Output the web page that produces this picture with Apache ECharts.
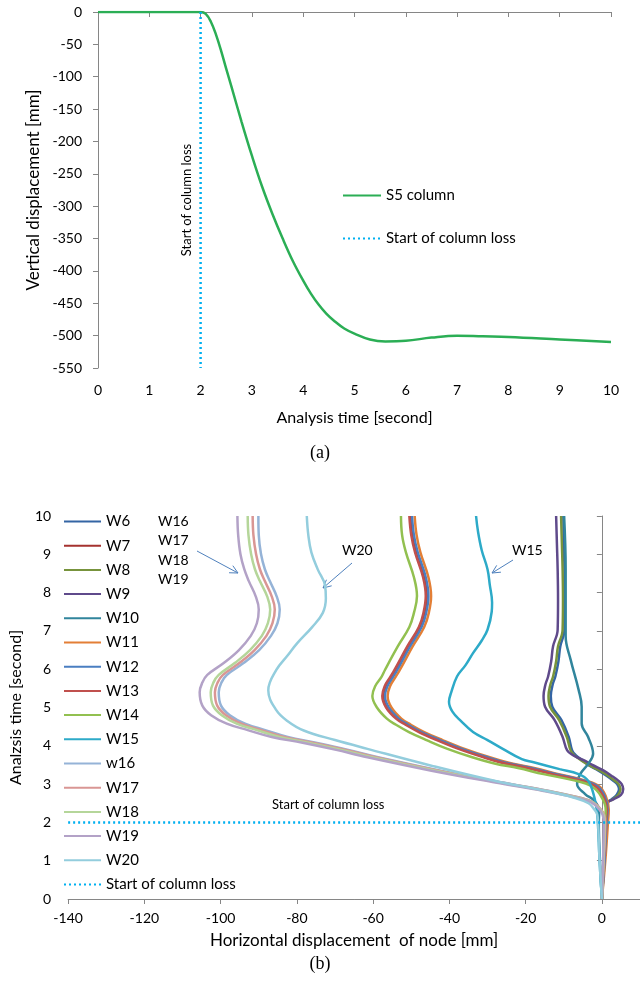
<!DOCTYPE html>
<html><head><meta charset="utf-8">
<script src="https://cdn.jsdelivr.net/npm/echarts@6/dist/echarts.min.js"></script>
<style>html,body{margin:0;padding:0;background:#fff}#c{width:640px;height:989px}</style>
</head><body><div id="c"></div>
<script>
const FONT = 'Lato, "Open Sans", sans-serif';

// ---------- Chart (a) ----------
const s5Time = [0,1,2,2.1,2.2,2.3,2.4,2.5,2.6,2.8,3.0,3.2,3.4,3.6,3.8,4.0,4.15,4.3,4.45,4.6,4.8,5.0,5.3,5.6,6.0,6.5,7.0,7.5,8.0,9.0,10];
const s5Disp = [0,0,0,-3,-15,-35,-60,-88,-115,-170,-222,-270,-312,-350,-385,-415,-435,-452,-466,-477,-489,-497,-506,-509,-508,-503,-500,-501,-502,-506,-510];
const lossTopTime = [2,2];
const lossTopDisp = [0,-550];

// ---------- Chart (b) ----------
const tRight = [0,1,2,2.39,2.52,2.6,2.72,2.87,3.0,3.09,3.22,3.35,3.5,3.61,3.75,3.88,4.23,4.67,5.02,5.3,5.6,5.81,6.2,6.6,6.9,7.03,7.8,8.61,9.3,10];
const W6  = [0,0.5,1.1,1.3,1.4,2.5,3.9,4.5,4.0,3.0,1.2,-0.9,-3.6,-5.0,-6.8,-7.8,-8.7,-10.6,-13,-13.4,-12.9,-12.2,-11.4,-10.9,-10,-9.8,-9.7,-9.8,-10,-10.1];
const W8  = [0,0.6,1.3,1.4,1.5,2.8,4.3,4.9,4.4,3.4,1.6,-0.5,-3.5,-5.3,-7.2,-8.2,-9.2,-11.2,-13.6,-14,-13.5,-12.8,-12,-11.5,-10.5,-10.3,-10.2,-10.3,-10.5,-10.7];
const W9  = [0,0.6,1.2,1.4,1.6,3.0,5.0,5.6,5.2,4.3,2.5,0.5,-2.5,-4.5,-7.5,-9.1,-10.3,-12.4,-14.9,-15.3,-14.8,-14.1,-13.3,-12.8,-11.8,-11.6,-11.5,-11.6,-11.8,-12];
const tW10 = [0,1,2,2.3,2.56,2.74,3.0,3.26,3.53,3.79,4.23,4.58,5.02,5.46,6.25,6.86,8.61,10];
const W10 = [0,-0.5,-0.8,-0.7,-1.9,-4.4,-6.5,-5.7,-3.6,-2.3,-3.6,-5.3,-5.3,-6.1,-8.2,-9.5,-9.5,-9.9];
const tMid = [0,1,2,2.34,2.69,2.95,3.09,3.26,3.42,3.53,3.7,3.92,4.15,4.36,4.55,4.71,5.0,5.3,5.55,5.8,5.98,6.6,7.1,7.47,7.91,8.4,9.05,9.5,10];
const W7  = [0,0.6,1.1,1.4,0.5,-1.5,-5.1,-12.5,-19,-24.5,-30.5,-37.1,-42.8,-47.5,-51,-53.6,-56.2,-57.2,-56.6,-55.1,-54,-50.6,-47.6,-46.4,-45.8,-46.5,-48.6,-49.6,-50.1];
const W11 = [0,0.9,1.6,1.8,1.0,-0.8,-4.2,-11.3,-17.8,-23.3,-29.4,-36,-41.8,-46.6,-50.1,-52.6,-55.2,-56.2,-55.6,-54.1,-53,-49.6,-46.6,-45.4,-44.8,-45.5,-47.6,-48.6,-49.1];
const W12 = [0,0.7,1.2,1.5,0.7,-1.2,-4.7,-12,-18.5,-24,-30,-36.7,-42.5,-47.3,-50.8,-53.3,-55.9,-56.9,-56.3,-54.8,-53.7,-50.3,-47.3,-46.1,-45.5,-46.2,-48.3,-49.3,-49.8];
const W13 = [0,0.5,1.0,1.3,0.3,-1.8,-5.5,-13,-19.5,-25,-31,-37.6,-43.3,-48,-51.5,-54,-56.6,-57.6,-57,-55.5,-54.4,-51,-48,-46.8,-46.2,-46.9,-49,-50,-50.5];
const W14 = [0,0.4,0.8,1.0,-0.25,-2.8,-7,-15.3,-22,-27.9,-34,-40.5,-46,-50.6,-54,-56.4,-59,-60.2,-59.5,-57.8,-56.9,-53.5,-50.5,-49.3,-48.5,-49.3,-51.4,-52.4,-52.7];
const tW15 = [0,1,2.08,2.43,2.78,3.09,3.26,3.39,3.57,3.65,3.92,4.15,4.36,4.65,4.89,5.15,5.4,5.81,6.1,6.42,6.75,7.03,7.5,7.74,8.2,8.61,9.1,9.6,10];
const W15 = [0,-0.6,-1.1,-1.5,-2.3,-3.6,-6.1,-11.1,-17.9,-21,-26,-30,-33.8,-37,-39.2,-40.1,-39.5,-38,-35.8,-33.8,-31.5,-30,-28.9,-28.8,-29.4,-30,-31.5,-32.5,-33];
const tLow = [0,1,2,2.2,2.34,2.52,2.65,2.82,3.04,3.35,3.7,3.9,4.08,4.23,4.41,4.58,4.8,5.05,5.4,5.65,5.85,6.16,6.5,6.87,7.2,7.56,7.9,8.3,8.61,9.0,9.5,10];
const W16 = [0,0.4,0.8,0.5,-0.4,-2.3,-6,-13.8,-26,-42.3,-58.7,-66.8,-75,-82.4,-88.3,-93.6,-97.6,-99.9,-100.5,-99.8,-98.4,-94,-89.9,-86.8,-85.1,-84.5,-85.3,-87.1,-88.4,-89.4,-90,-90.1];
const W17 = [0,0.5,0.9,0.6,-0.3,-2.2,-6,-14,-26.3,-42.8,-59.3,-67.5,-75.8,-83.3,-89.3,-94.6,-98.6,-100.9,-101.5,-100.8,-99.4,-95.1,-91.1,-88,-86.4,-85.8,-86.6,-88.4,-89.7,-90.7,-91.4,-91.6];
const W18 = [0,0.4,0.7,0.4,-0.5,-2.5,-6.5,-14.6,-27,-43.6,-60.3,-68.6,-77,-84.6,-90.5,-95.8,-99.7,-102,-102.6,-101.9,-100.5,-96.3,-92.3,-89.2,-87.6,-87,-87.8,-89.7,-91,-92,-92.7,-92.9];
const W19 = [0,0.3,0.5,0.2,-0.7,-2.8,-7,-15.3,-27.9,-44.7,-61.5,-70,-78.5,-86.6,-92.9,-98.4,-102.5,-104.8,-105.5,-104.8,-103.5,-99.2,-95.2,-92.1,-90.5,-90,-90.8,-92.6,-93.8,-94.8,-95.4,-95.6];
const tW20 = [0,1,2,2.2,2.34,2.5,2.65,2.83,3.08,3.48,3.92,4.15,4.4,4.65,4.93,5.45,5.98,6.35,6.68,7.1,7.47,7.85,8.18,8.6,9.05,9.5,10];
const W20 = [0,-0.6,-1,-1.2,-2,-3.5,-7.5,-15,-27.9,-44.7,-61.5,-70,-78.2,-82.5,-85.4,-87.5,-85.4,-82.5,-79.9,-76,-73.2,-72.4,-72.6,-74.5,-76.2,-77,-77.4];
const lossBotX = [-140,10];
const lossBotT = [2,2];

const seriesNames = ['W6','W7','W8','W9','W10','W11','W12','W13','W14','W15','w16','W17','W18','W19','W20'];
const seriesX = [W6,W7,W8,W9,W10,W11,W12,W13,W14,W15,W16,W17,W18,W19,W20];
const seriesT = [tRight,tMid,tRight,tRight,tW10,tMid,tMid,tMid,tMid,tW15,tLow,tLow,tLow,tLow,tW20];
const seriesColors = ['#3465A4','#A5322F','#77933C','#5F4A8B','#31859C','#E37F36','#4A7EC1','#C0504D','#92C050','#2DAAC8','#95B3D7','#D99694','#B5D69A','#B3A2C7','#93CDDD'];

const zip = (a, b) => a.map((v, i) => [v, b[i]]);
const AX = '#868686';
const lab = {fontSize: 14, color: '#000', fontFamily: FONT};
const nameStyle = {fontSize: 16, color: '#000', fontFamily: FONT};

const series = [
  {name: 'S5 column', type: 'line', xAxisIndex: 0, yAxisIndex: 0, data: zip(s5Time, s5Disp),
   symbol: 'none', smooth: 0.4, lineStyle: {color: '#2BAE55', width: 2.5}, itemStyle: {color: '#2BAE55'}},
  {name: 'Start of column loss', type: 'line', xAxisIndex: 0, yAxisIndex: 0, data: zip(lossTopTime, lossTopDisp),
   symbol: 'none', lineStyle: {color: '#00B0F0', width: 2.5, type: [2, 3]}, itemStyle: {color: '#00B0F0'}}
];
seriesNames.forEach((n, i) => {
  series.push({name: n, type: 'line', xAxisIndex: 2, yAxisIndex: 1, data: zip(seriesX[i], seriesT[i]),
    symbol: 'none', smooth: 0.4, lineStyle: {color: seriesColors[i], width: 2.5}, itemStyle: {color: seriesColors[i]}});
});
series.push({name: 'Start of column loss', type: 'line', xAxisIndex: 2, yAxisIndex: 1, data: zip(lossBotX, lossBotT),
  symbol: 'none', lineStyle: {color: '#00B0F0', width: 2.5, type: [2, 3]}, itemStyle: {color: '#00B0F0'}});

function arrow(x1, y1, x2, y2) {
  const dx = x2 - x1, dy = y2 - y1, L = Math.hypot(dx, dy), ux = dx / L, uy = dy / L;
  const h = 8, w = 4;
  return [
    {type: 'line', shape: {x1, y1, x2, y2}, style: {stroke: '#4F81BD', lineWidth: 1}},
    {type: 'polyline', shape: {points: [[x2 - h * ux + w * uy, y2 - h * uy - w * ux], [x2, y2], [x2 - h * ux - w * uy, y2 - h * uy + w * ux]]},
     style: {stroke: '#4F81BD', lineWidth: 1, fill: null}}
  ];
}

const chart = echarts.init(document.getElementById('c'), null, {renderer: 'canvas'});
chart.setOption({
  animation: false,
  backgroundColor: '#fff',
  textStyle: {fontFamily: FONT},
  grid: [
    {left: 98, top: 12, width: 513, height: 356},
    {left: 55, top: 516, width: 596, height: 383}
  ],
  xAxis: [
    {gridIndex: 0, type: 'value', min: 0, max: 10, interval: 1, position: 'bottom',
     axisLine: {show: false, onZero: false}, axisTick: {show: false}, splitLine: {show: false},
     axisLabel: Object.assign({margin: 15}, lab),
     name: 'Analysis time [second]', nameLocation: 'middle', nameGap: 42, nameTextStyle: nameStyle},
    {gridIndex: 0, type: 'value', min: 0, max: 10, interval: 1, position: 'top',
     axisLine: {show: true, onZero: false, lineStyle: {color: AX, width: 1}},
     axisTick: {show: true, inside: true, length: 5, lineStyle: {color: AX}},
     axisLabel: {show: false}, splitLine: {show: false}},
    {gridIndex: 1, type: 'value', min: -140, max: 10, interval: 20, position: 'bottom',
     axisLine: {show: true, onZero: false, lineStyle: {color: AX, width: 1}},
     axisTick: {show: true, length: 5, lineStyle: {color: AX}},
     axisLabel: Object.assign({margin: 12, showMaxLabel: false}, lab), splitLine: {show: false},
     name: 'Horizontal displacement  of node [mm]', nameLocation: 'middle', nameGap: 33,
     nameTextStyle: Object.assign({}, nameStyle, {fontSize: 17})}
  ],
  yAxis: [
    {gridIndex: 0, type: 'value', min: -550, max: 0, interval: 50,
     axisLine: {show: true, onZero: false, lineStyle: {color: AX, width: 1}},
     axisTick: {show: true, length: 5, lineStyle: {color: AX}},
     axisLabel: Object.assign({margin: 16}, lab), splitLine: {show: false},
     name: 'Vertical displacement [mm]', nameLocation: 'middle', nameGap: 54,
     nameTextStyle: Object.assign({}, nameStyle, {fontSize: 17})},
    {gridIndex: 1, type: 'value', min: 0, max: 10, interval: 1, position: 'left',
     axisLine: {show: false, onZero: false}, axisTick: {show: false}, splitLine: {show: false},
     axisLabel: Object.assign({margin: 17}, lab),
     name: 'Analzsis time [second]', nameLocation: 'middle', nameGap: 29, nameTextStyle: nameStyle},
    {gridIndex: 1, type: 'value', min: 0, max: 10, interval: 1, position: 'right',
     axisLine: {show: true, onZero: true, lineStyle: {color: AX, width: 1}},
     axisTick: {show: true, inside: true, length: 5, lineStyle: {color: AX}},
     axisLabel: {show: false}, splitLine: {show: false}}
  ],
  legend: [
    {data: ['S5 column', 'Start of column loss'], orient: 'vertical', left: 337, top: 183,
     itemWidth: 38, itemHeight: 14, itemGap: 28, selectedMode: false, itemStyle: {opacity: 0},
     textStyle: {fontSize: 15, color: '#000', fontFamily: FONT}},
    {data: seriesNames.concat(['Start of column loss']), orient: 'vertical', left: 58, top: 509,
     itemWidth: 37, itemHeight: 14, itemGap: 9.2, selectedMode: false, itemStyle: {opacity: 0},
     textStyle: {fontSize: 15, color: '#000', fontFamily: FONT}}
  ],
  graphic: [
    {type: 'text', x: 187, y: 200, rotation: Math.PI / 2,
     style: {text: 'Start of column loss', fontSize: 13, fontFamily: FONT, fill: '#000', align: 'center', verticalAlign: 'middle'}},
    {type: 'text', x: 320, y: 453,
     style: {text: '(a)', fontSize: 18, fontFamily: '"Liberation Serif", serif', fill: '#000', align: 'center', verticalAlign: 'middle'}},
    {type: 'text', x: 320, y: 964,
     style: {text: '(b)', fontSize: 18, fontFamily: '"Liberation Serif", serif', fill: '#000', align: 'center', verticalAlign: 'middle'}},
    {type: 'text', x: 158, y: 512,
     style: {text: 'W16\nW17\nW18\nW19', fontSize: 14, lineHeight: 19.3, fontFamily: FONT, fill: '#000', align: 'left', verticalAlign: 'top'}},
    {type: 'text', x: 342, y: 550,
     style: {text: 'W20', fontSize: 14, fontFamily: FONT, fill: '#000', align: 'left', verticalAlign: 'middle'}},
    {type: 'text', x: 512, y: 550,
     style: {text: 'W15', fontSize: 14, fontFamily: FONT, fill: '#000', align: 'left', verticalAlign: 'middle'}},
    {type: 'text', x: 272, y: 805,
     style: {text: 'Start of column loss', fontSize: 13, fontFamily: FONT, fill: '#000', align: 'left', verticalAlign: 'middle'}}
  ].concat(arrow(197, 551, 238, 573), arrow(352, 563, 323, 588), arrow(513, 560, 492, 573)),
  series: series
});
</script>
</body></html>
